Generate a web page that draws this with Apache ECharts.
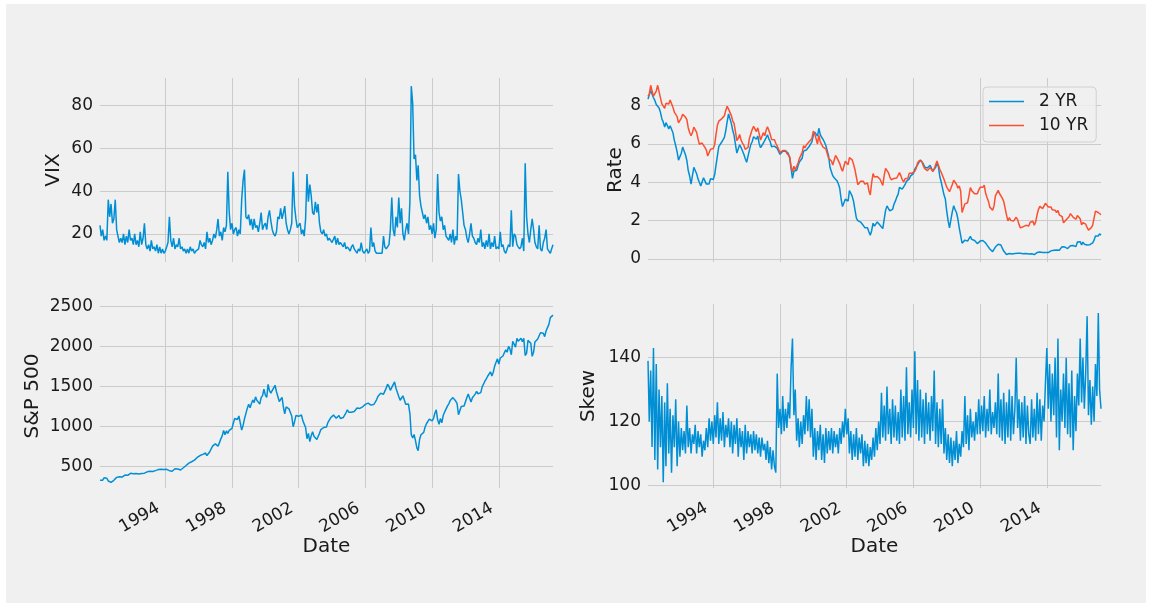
<!DOCTYPE html>
<html>
<head>
<meta charset="utf-8">
<script src="https://cdn.jsdelivr.net/npm/echarts@6/dist/echarts.min.js"></script>
<style>
html, body { margin: 0; padding: 0; background: #ffffff; }
#chart { width: 1152px; height: 607px; }
</style>
</head>
<body>
<div id="chart"></div>
<script>
// monthly readings, first point = Feb 1990, last = Apr 2017
var vix = [
  24, 19, 22, 17, 19, 17, 36, 28, 34, 25, 27,
  36, 22, 19, 16, 18, 16, 20, 15, 19, 16, 22, 17,
  18, 15, 20, 15, 17, 14, 21, 15, 18, 25, 15, 13,
  15, 12, 17, 13, 14, 12, 15, 11, 14, 11, 13, 11,
  12, 14, 16, 28, 17, 14, 18, 13, 15, 14, 18, 13,
  14, 12, 13, 11, 13, 11, 14, 12, 13, 11, 12, 12,
  13, 17, 15, 14, 16, 13, 21, 16, 18, 15, 17, 20,
  18, 22, 27, 19, 21, 17, 23, 21, 24, 49, 30, 22,
  25, 20, 22, 23, 19, 22, 20, 36, 45, 50, 28, 27,
  29, 24, 27, 22, 27, 23, 24, 21, 25, 30, 22, 24,
  25, 22, 28, 31, 26, 22, 20, 19, 21, 28, 27, 32,
  27, 30, 33, 25, 22, 20, 22, 25, 49, 33, 27, 23,
  23, 25, 20, 22, 19, 27, 48, 35, 43, 38, 30, 29,
  35, 30, 34, 25, 21, 20, 22, 19, 20, 17, 18, 17,
  16, 16, 19, 15, 18, 15, 16, 15, 14, 16, 13, 14,
  13, 12, 14, 15, 13, 12, 11, 13, 12, 16, 12, 11,
  12, 13, 11, 12, 23, 14, 16, 12, 11, 10.5, 11, 10.5,
  11, 19, 14, 13, 14, 15, 22, 37, 22, 19, 28, 23,
  37, 25, 32, 20, 17, 22, 25, 20, 35, 89, 81, 55,
  57, 45, 52, 38, 33, 30, 27, 29, 25, 28, 22, 24,
  20, 25, 18, 22, 48, 30, 26, 28, 22, 24, 19, 18,
  17, 20, 16, 22, 15, 19, 17, 48, 40, 36, 30, 24,
  22, 18, 16, 20, 25, 19, 18, 16, 15, 18, 16, 22,
  14, 16, 13, 17, 14, 20, 13, 16, 14, 19, 13, 14,
  13, 21, 14, 15, 12, 11, 13, 15, 14, 31, 14, 20,
  19, 15, 14, 13, 14, 18, 12, 53, 28, 20, 16, 22,
  27, 22, 16, 14, 13, 24, 13, 12, 16, 18, 22, 13,
  12, 11, 13, 15
];

var rate2 = [
  8.33, 8.56, 8.78, 8.69, 8.40, 8.26, 8.05, 8.04, 7.87, 7.64, 7.31,
  7.13, 6.87, 7.10, 6.95, 6.78, 6.94, 6.96, 6.58, 6.18, 5.90, 5.58, 5.15,
  5.13, 5.51, 5.83, 5.63, 5.43, 5.13, 4.61, 4.32, 3.90, 4.34, 4.77, 4.85,
  4.44, 4.16, 4.00, 3.80, 4.01, 4.23, 4.15, 3.90, 3.80, 3.91, 4.18, 4.19,
  4.14, 4.41, 4.88, 5.37, 5.85, 5.83, 6.08, 6.08, 6.34, 6.68, 7.16, 7.56,
  7.46, 7.05, 6.72, 6.44, 5.97, 5.52, 5.61, 5.95, 5.81, 5.72, 5.46, 5.23,
  5.04, 5.01, 5.66, 5.96, 6.11, 6.37, 6.45, 6.24, 6.41, 6.02, 5.80, 5.82,
  6.03, 6.04, 6.31, 6.47, 6.26, 6.11, 5.85, 5.93, 5.88, 5.81, 5.76, 5.73,
  5.45, 5.50, 5.61, 5.61, 5.63, 5.55, 5.50, 5.25, 4.71, 4.20, 4.57, 4.53,
  4.62, 4.86, 5.05, 4.98, 5.25, 5.62, 5.55, 5.68, 5.66, 5.86, 5.86, 6.10,
  6.44, 6.61, 6.53, 6.40, 6.81, 6.48, 6.34, 6.23, 6.08, 5.91, 5.88, 5.35,
  4.76, 4.66, 4.34, 4.23, 4.26, 4.08, 3.92, 3.68, 3.11, 2.73, 2.78, 3.11,
  3.03, 3.02, 3.56, 3.42, 3.26, 2.99, 2.56, 2.13, 2.00, 1.91, 1.92, 1.84,
  1.74, 1.63, 1.57, 1.62, 1.42, 1.23, 1.47, 1.86, 1.71, 1.75, 1.93, 1.91,
  1.76, 1.74, 1.58, 2.07, 2.53, 2.76, 2.64, 2.51, 2.53, 2.58, 2.85, 3.01,
  3.22, 3.38, 3.73, 3.65, 3.64, 3.64, 3.87, 4.04, 3.95, 4.17, 4.33, 4.39,
  4.45, 4.68, 4.77, 4.90, 5.00, 5.16, 5.22, 4.98, 4.80, 4.80, 4.74, 4.67,
  4.88, 4.85, 4.57, 4.67, 4.77, 4.98, 4.82, 4.31, 4.01, 3.97, 3.34, 3.12,
  2.48, 1.97, 1.62, 2.05, 2.45, 2.77, 2.57, 2.42, 2.08, 1.61, 1.21, 0.82,
  0.81, 0.98, 0.93, 0.93, 0.92, 1.18, 1.02, 1.12, 0.96, 0.95, 0.80, 0.87,
  0.93, 0.86, 0.96, 1.06, 0.83, 0.72, 0.62, 0.52, 0.47, 0.38, 0.45, 0.62,
  0.61, 0.77, 0.70, 0.73, 0.56, 0.41, 0.41, 0.23, 0.21, 0.28, 0.25, 0.26,
  0.24, 0.28, 0.34, 0.29, 0.29, 0.29, 0.23, 0.27, 0.26, 0.28, 0.27, 0.26,
  0.27, 0.27, 0.26, 0.23, 0.25, 0.33, 0.34, 0.36, 0.40, 0.34, 0.30, 0.34,
  0.39, 0.33, 0.40, 0.42, 0.39, 0.45, 0.51, 0.47, 0.57, 0.45, 0.53, 0.64,
  0.55, 0.62, 0.64, 0.54, 0.61, 0.69, 0.67, 0.70, 0.71, 0.64, 0.88, 0.98,
  0.90, 0.73, 0.88, 0.77, 0.82, 0.73, 0.67, 0.74, 0.77, 0.84, 0.98, 1.20,
  1.21, 1.20, 1.31, 1.24
];

var rate10 = [
  8.47, 8.59, 9.05, 8.76, 8.48, 8.47, 8.75, 9.05, 8.72, 8.39, 8.08,
  8.09, 7.85, 8.11, 8.04, 8.07, 8.28, 8.27, 7.90, 7.65, 7.53, 7.42, 7.09,
  7.03, 7.34, 7.54, 7.48, 7.39, 7.26, 6.84, 6.59, 6.42, 6.59, 6.87, 6.77,
  6.60, 6.26, 5.98, 5.97, 6.04, 5.96, 5.81, 5.68, 5.36, 5.33, 5.72, 5.77,
  5.75, 5.97, 6.48, 6.97, 7.18, 7.10, 7.30, 7.24, 7.46, 7.74, 7.96, 7.81,
  7.78, 7.47, 7.20, 7.06, 6.63, 6.17, 6.28, 6.49, 6.20, 6.04, 5.93, 5.71,
  5.65, 5.81, 6.27, 6.51, 6.74, 6.91, 6.87, 6.64, 6.83, 6.53, 6.20, 6.30,
  6.58, 6.42, 6.69, 6.89, 6.71, 6.49, 6.22, 6.30, 6.21, 6.03, 5.88, 5.81,
  5.54, 5.57, 5.65, 5.64, 5.65, 5.50, 5.46, 5.34, 4.81, 4.53, 4.83, 4.65,
  4.72, 5.00, 5.23, 5.18, 5.54, 5.90, 5.79, 5.94, 5.92, 6.11, 6.03, 6.28,
  6.66, 6.52, 6.26, 5.99, 6.44, 6.10, 6.05, 5.83, 5.80, 5.74, 5.72, 5.24,
  5.16, 5.10, 4.89, 5.14, 5.39, 5.28, 5.24, 4.97, 4.73, 4.57, 4.65, 5.09,
  5.04, 4.91, 5.28, 5.21, 5.16, 4.93, 4.65, 4.26, 3.87, 3.94, 4.05, 4.03,
  4.05, 3.90, 3.81, 3.96, 3.57, 3.33, 3.98, 4.45, 4.27, 4.29, 4.30, 4.27,
  4.15, 4.08, 3.83, 4.35, 4.72, 4.73, 4.50, 4.28, 4.13, 4.10, 4.19, 4.23,
  4.22, 4.17, 4.50, 4.34, 4.14, 4.00, 4.18, 4.26, 4.20, 4.46, 4.54, 4.47,
  4.42, 4.57, 4.72, 4.99, 5.11, 5.11, 5.09, 4.88, 4.72, 4.73, 4.60, 4.56,
  4.76, 4.72, 4.56, 4.69, 4.75, 5.10, 5.00, 4.67, 4.52, 4.53, 4.15, 4.10,
  3.74, 3.74, 3.51, 3.68, 3.88, 4.10, 4.01, 3.89, 3.69, 3.81, 3.53, 2.42,
  2.52, 2.87, 2.82, 2.93, 3.29, 3.72, 3.56, 3.59, 3.40, 3.39, 3.40, 3.59,
  3.73, 3.69, 3.73, 3.85, 3.42, 3.20, 3.01, 2.70, 2.65, 2.54, 2.76, 3.29,
  3.39, 3.58, 3.41, 3.46, 3.17, 3.00, 3.00, 2.30, 1.98, 2.15, 2.01, 1.98,
  1.97, 1.97, 2.17, 2.05, 1.80, 1.62, 1.53, 1.68, 1.72, 1.75, 1.65, 1.72,
  1.91, 1.98, 1.96, 1.76, 1.93, 2.30, 2.58, 2.74, 2.81, 2.62, 2.72, 2.90,
  2.86, 2.71, 2.72, 2.71, 2.56, 2.60, 2.54, 2.42, 2.53, 2.30, 2.33, 2.21,
  1.88, 1.98, 2.04, 1.94, 2.20, 2.36, 2.32, 2.17, 2.17, 2.07, 2.26, 2.24,
  2.09, 1.78, 1.89, 1.81, 1.81, 1.64, 1.50, 1.56, 1.63, 1.76, 2.14, 2.49,
  2.43, 2.42, 2.48, 2.30
];

var spx = [
  331, 339, 331, 361, 358, 356, 322, 306, 304, 322, 330,
  343, 367, 375, 375, 390, 371, 387, 395, 387, 392, 375, 417,
  408, 412, 404, 414, 415, 408, 424, 414, 418, 419, 431, 436,
  439, 443, 452, 440, 450, 451, 448, 464, 459, 468, 462, 466,
  481, 467, 446, 451, 457, 444, 458, 475, 463, 472, 454, 459,
  470, 487, 501, 515, 533, 545, 562, 562, 584, 582, 605, 616,
  636, 640, 645, 654, 669, 671, 640, 652, 687, 705, 757, 741,
  786, 791, 757, 801, 848, 885, 954, 899, 947, 915, 955, 970,
  980, 1049, 1102, 1112, 1091, 1134, 1121, 957, 1017, 1099, 1164, 1229,
  1280, 1238, 1286, 1335, 1302, 1373, 1329, 1320, 1283, 1363, 1389, 1469,
  1394, 1366, 1530, 1452, 1421, 1455, 1431, 1518, 1437, 1429, 1315, 1320,
  1366, 1240, 1160, 1249, 1256, 1224, 1211, 1134, 1000, 1060, 1139, 1148,
  1130, 1107, 1147, 1076, 1067, 990, 850, 916, 815, 886, 936, 880,
  856, 841, 848, 917, 964, 975, 990, 1008, 996, 1051, 1058, 1112,
  1131, 1145, 1126, 1107, 1121, 1141, 1102, 1104, 1115, 1130, 1174, 1212,
  1181, 1204, 1181, 1157, 1191, 1191, 1234, 1220, 1229, 1207, 1249, 1248,
  1280, 1281, 1295, 1311, 1270, 1270, 1277, 1304, 1336, 1378, 1401, 1418,
  1438, 1407, 1421, 1482, 1531, 1503, 1455, 1474, 1527, 1560, 1481, 1468,
  1379, 1331, 1323, 1386, 1400, 1280, 1267, 1283, 1165, 900, 860, 903,
  826, 735, 700, 840, 900, 919, 930, 1000, 1040, 1040, 1096, 1115,
  1074, 1104, 1169, 1210, 1089, 1031, 1102, 1049, 1141, 1183, 1181, 1258,
  1286, 1327, 1326, 1364, 1345, 1321, 1292, 1150, 1131, 1253, 1247, 1258,
  1312, 1366, 1408, 1398, 1310, 1362, 1379, 1407, 1441, 1412, 1416, 1426,
  1498, 1515, 1569, 1598, 1631, 1606, 1686, 1633, 1682, 1757, 1806, 1848,
  1783, 1859, 1872, 1884, 1924, 1960, 1931, 2003, 1972, 1900, 2068, 2059,
  1995, 2105, 2068, 2086, 2107, 2063, 2104, 1890, 1920, 2079, 2080, 2044,
  1880, 1932, 2060, 2065, 2097, 2099, 2174, 2171, 2168, 2126, 2199, 2239,
  2279, 2364, 2363, 2395
];

var skew = [
  139, 120, 136, 112, 143, 108, 138, 105, 130, 112, 128,
  101, 126, 106, 132, 110, 124, 104, 122, 112, 127, 106, 120,
  109, 118, 111, 117, 110, 125, 112, 118, 110, 116, 113, 119,
  110, 117, 112, 116, 109, 114, 111, 118, 112, 121, 114, 120,
  113, 122, 115, 126, 113, 121, 114, 123, 112, 119, 115, 121,
  112, 120, 110, 119, 113, 121, 109, 118, 112, 117, 108, 119,
  110, 117, 112, 116, 110, 117, 111, 116, 110, 115, 109, 115,
  111, 113, 108, 114, 107, 112, 105, 111, 106, 104, 135, 118,
  124, 116, 128, 117, 124, 118, 126, 121, 137, 146, 122, 130,
  114, 121, 112, 120, 113, 122, 116, 128, 117, 127, 115, 124,
  109, 118, 108, 117, 111, 119, 108, 116, 107, 118, 110, 117,
  111, 118, 110, 117, 112, 116, 110, 118, 113, 120, 115, 124,
  116, 121, 110, 117, 108, 116, 109, 118, 108, 115, 110, 116,
  106, 114, 107, 113, 106, 112, 108, 115, 109, 118, 111, 120,
  113, 129, 115, 125, 114, 131, 116, 124, 113, 127, 115, 125,
  114, 123, 113, 130, 115, 128, 114, 137, 116, 126, 115, 130,
  118, 142, 116, 133, 114, 130, 115, 127, 113, 129, 116, 126,
  114, 128, 117, 136, 113, 126, 112, 124, 113, 127, 110, 118,
  108, 116, 107, 115, 106, 114, 108, 117, 107, 113, 109, 117,
  112, 128, 113, 122, 111, 124, 115, 120, 114, 123, 116, 127,
  116, 125, 117, 128, 115, 124, 117, 130, 116, 123, 118, 126,
  116, 135, 115, 127, 114, 129, 113, 126, 115, 130, 114, 128,
  116, 124, 140, 118, 127, 114, 126, 115, 128, 113, 125, 116,
  113, 127, 115, 124, 114, 129, 116, 127, 114, 125, 120, 132,
  143, 124, 138, 120, 135, 122, 140, 115, 146, 111, 130, 120,
  135, 118, 140, 116, 132, 115, 136, 111, 128, 117, 135, 125,
  146, 126, 140, 124, 135, 153, 122, 133, 119, 131, 120, 138,
  128, 154, 130, 124
];

var yearTicks = [1994, 1998, 2002, 2006, 2010, 2014];
var vixTicks = [20, 40, 60, 80];
var rateTicks = [0, 2, 4, 6, 8];
var spxTicks = [500, 1000, 1500, 2000, 2500];
var skewTicks = [100, 120, 140];

function withDates(values) {
  return values.map(function (v, i) {
    var m = i + 1; // Feb 1990 is month 1
    return [Date.UTC(1990 + Math.floor(m / 12), m % 12, 1), v];
  });
}

var chart = echarts.init(document.getElementById('chart'));
var font = 'DejaVu Sans';
var gridColor = '#cbcbcb';
var textColor = '#1a1a1a';
var tStart = Date.UTC(1990, 1, 1);
var tEnd = Date.UTC(2017, 3, 1);
var yearStamps = yearTicks.map(function (y) { return Date.UTC(y, 0, 1); });

// dates are kept as timestamps on a plain value axis so the year ticks can be placed exactly
function xAx(gridIndex, showLabels) {
  return {
    type: 'value', gridIndex: gridIndex, min: tStart, max: tEnd,
    name: showLabels ? 'Date' : '', nameLocation: 'middle', nameGap: 49,
    nameMoveOverlap: false,
    nameTextStyle: { fontFamily: font, fontSize: 20, color: textColor },
    axisLine: { show: false },
    axisTick: { show: false, customValues: yearStamps },
    splitLine: { show: true, lineStyle: { color: gridColor, width: 1 } },
    axisLabel: {
      show: showLabels, customValues: yearStamps, rotate: 30, margin: 15,
      padding: [0, 8, 0, 0],
      fontFamily: font, fontSize: 17, color: textColor,
      formatter: function (v) { return String(new Date(v).getUTCFullYear()); }
    }
  };
}

function yAx(gridIndex, min, max, ticks, name, gap) {
  return {
    type: 'value', gridIndex: gridIndex, min: min, max: max,
    name: name, nameLocation: 'middle', nameGap: gap, nameMoveOverlap: false,
    nameTextStyle: { fontFamily: font, fontSize: 20, color: textColor },
    axisLine: { show: false },
    axisTick: { show: false, customValues: ticks },
    splitLine: { show: true, lineStyle: { color: gridColor, width: 1 } },
    axisLabel: {
      customValues: ticks, margin: 7, fontFamily: font, fontSize: 17, color: textColor,
      formatter: function (v) { return String(v); }
    }
  };
}

function line(name, data, xi, color) {
  return {
    name: name, type: 'line', data: withDates(data), xAxisIndex: xi, yAxisIndex: xi,
    showSymbol: false, symbol: 'none', lineStyle: { width: 1.5, color: color },
    itemStyle: { color: color }, animation: false
  };
}

var option = {
  backgroundColor: '#ffffff',
  animation: false,
  graphic: [{
    type: 'rect', z: -10, silent: true,
    shape: { x: 6, y: 4, width: 1140, height: 599 },
    style: { fill: '#f0f0f0' }
  }],
  grid: [
    { left: 100, top: 78, width: 453, height: 184 },
    { left: 648, top: 78, width: 453, height: 184 },
    { left: 100, top: 304, width: 453, height: 184 },
    { left: 648, top: 304, width: 453, height: 184 }
  ],
  xAxis: [xAx(0, false), xAx(1, false), xAx(2, true), xAx(3, true)],
  yAxis: [
    yAx(0, 6.9, 92.8, vixTicks, 'VIX', 36),
    yAx(1, -0.16, 9.43, rateTicks, 'Rate', 22),
    yAx(2, 234, 2534, spxTicks, 'S&P 500', 57),
    yAx(3, 99.2, 156.8, skewTicks, 'Skew', 49)
  ],
  legend: {
    data: ['2 YR', '10 YR'], orient: 'vertical', left: 983, top: 87,
    icon: 'rect', itemWidth: 35, itemHeight: 1.5, itemGap: 7,
    padding: [6, 8, 8, 6],
    backgroundColor: 'rgba(240,240,240,0.8)', borderColor: '#d0d0d0', borderWidth: 1, borderRadius: 4,
    textStyle: { fontFamily: font, fontSize: 17, color: textColor, padding: [0, 0, 0, 10] }
  },
  series: [
    line('VIX', vix, 0, '#008fd5'),
    line('2 YR', rate2, 1, '#008fd5'),
    line('10 YR', rate10, 1, '#fc4f30'),
    line('S&P 500', spx, 2, '#008fd5'),
    line('Skew', skew, 3, '#008fd5')
  ]
};

chart.setOption(option);
</script>
</body>
</html>
